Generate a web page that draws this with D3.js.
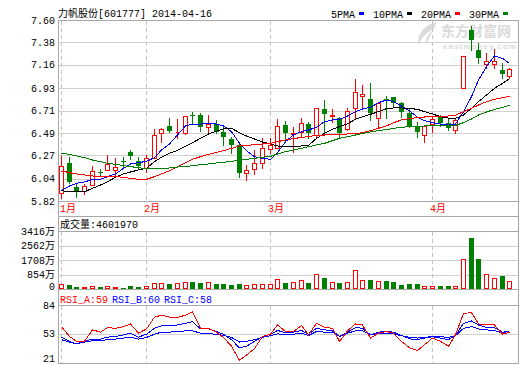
<!DOCTYPE html>
<html>
<head>
<meta charset="utf-8">
<script src="https://cdn.jsdelivr.net/npm/d3@7"></script>
<style>
  body { margin: 0; background: #fff; }
  svg { display: block; }
  text { font-family: "Liberation Mono", "Noto Sans CJK SC", monospace; font-size: 10px; fill: #000; }
</style>
</head>
<body>
<svg width="520" height="365"></svg>
<script>

// trading days shown (2014)
var dates = [
  "2014-01-16","2014-01-17","2014-01-20","2014-01-21","2014-01-22","2014-01-23","2014-01-24","2014-01-27","2014-01-28","2014-01-29","2014-01-30",
  "2014-02-07","2014-02-10","2014-02-11","2014-02-12","2014-02-13","2014-02-14","2014-02-17","2014-02-18","2014-02-19","2014-02-20","2014-02-21","2014-02-24","2014-02-25","2014-02-26","2014-02-27","2014-02-28",
  "2014-03-03","2014-03-04","2014-03-05","2014-03-06","2014-03-07","2014-03-10","2014-03-11","2014-03-12","2014-03-13","2014-03-14","2014-03-17","2014-03-18","2014-03-19","2014-03-20","2014-03-21","2014-03-24","2014-03-25","2014-03-26","2014-03-27","2014-03-28","2014-03-31",
  "2014-04-01","2014-04-02","2014-04-03","2014-04-04","2014-04-08","2014-04-09","2014-04-10","2014-04-11","2014-04-14","2014-04-15","2014-04-16"
];

var open = [
  5.895, 6.190, 5.961, 5.922, 5.977, 6.108, 6.125, 6.125, 6.210, 6.299, 6.213,
  6.141, 6.240, 6.485, 6.558, 6.497, 6.492, 6.669, 6.666, 6.545, 6.577, 6.502, 6.427, 6.371, 6.099, 6.131, 6.190,
  6.328, 6.338, 6.564, 6.482, 6.502, 6.577, 6.469, 6.721, 6.656, 6.633, 6.525, 6.731, 6.853, 6.820, 6.633, 6.826, 6.839, 6.787, 6.682, 6.558, 6.469,
  6.577, 6.643, 6.590, 6.518, 6.935, 7.502, 7.305, 7.164, 7.164, 7.108, 7.049
];
var high = [
  6.263, 6.256, 5.994, 5.987, 6.168, 6.135, 6.276, 6.243, 6.256, 6.322, 6.256,
  6.272, 6.525, 6.535, 6.633, 6.626, 6.656, 6.692, 6.682, 6.666, 6.617, 6.545, 6.446, 6.381, 6.174, 6.322, 6.436,
  6.436, 6.630, 6.607, 6.551, 6.633, 6.600, 6.731, 6.813, 6.721, 6.649, 6.731, 7.017, 6.961, 6.977, 6.797, 6.853, 6.839, 6.790, 6.731, 6.600, 6.558,
  6.649, 6.666, 6.633, 6.633, 7.246, 7.541, 7.370, 7.272, 7.312, 7.174, 7.125
];
var low = [
  5.853, 5.994, 5.856, 5.886, 5.974, 6.069, 6.125, 6.076, 6.141, 6.230, 6.132,
  6.102, 6.240, 6.400, 6.495, 6.436, 6.476, 6.590, 6.512, 6.502, 6.485, 6.371, 6.289, 6.059, 6.027, 6.086, 6.141,
  6.289, 6.338, 6.404, 6.305, 6.446, 6.436, 6.436, 6.485, 6.600, 6.436, 6.518, 6.633, 6.748, 6.617, 6.551, 6.633, 6.740, 6.650, 6.551, 6.446, 6.403,
  6.502, 6.558, 6.518, 6.486, 6.935, 7.305, 7.174, 7.125, 7.125, 7.026, 7.026
];
var close = [
  6.164, 6.004, 5.922, 5.971, 6.118, 6.102, 6.181, 6.158, 6.204, 6.263, 6.168,
  6.240, 6.466, 6.528, 6.508, 6.503, 6.656, 6.663, 6.545, 6.577, 6.502, 6.453, 6.371, 6.099, 6.125, 6.190, 6.338,
  6.371, 6.561, 6.485, 6.488, 6.584, 6.485, 6.731, 6.676, 6.662, 6.492, 6.708, 6.889, 6.872, 6.682, 6.787, 6.820, 6.787, 6.692, 6.561, 6.502, 6.558,
  6.623, 6.590, 6.535, 6.617, 7.246, 7.403, 7.223, 7.197, 7.197, 7.066, 7.118
];

// moving averages as drawn
var ma5 = [
  5.922, 5.968, 5.994, 6.007, 6.033, 6.033, 6.059, 6.086, 6.141, 6.184, 6.197, 6.210, 6.246, 6.322, 6.381, 6.469,
  6.558, 6.577, 6.577, 6.584, 6.577, 6.558, 6.502, 6.387, 6.315, 6.256, 6.240, 6.230, 6.295, 6.404, 6.469, 6.502, 6.518, 6.545, 6.600, 6.617, 6.623, 6.656,
  6.699, 6.725, 6.741, 6.787, 6.813, 6.797, 6.754, 6.708, 6.643, 6.610, 6.590, 6.577, 6.567, 6.577, 6.699, 6.846, 7.010, 7.141, 7.246, 7.223, 7.174
];
var ma10 = [
  5.922, 5.909, 5.909, 5.912, 5.945, 5.977, 6.010, 6.053, 6.086, 6.105, 6.125, 6.141, 6.207, 6.250, 6.289, 6.318,
  6.360, 6.394, 6.436, 6.479, 6.508, 6.531, 6.535, 6.492, 6.459, 6.430, 6.400, 6.381, 6.361, 6.354, 6.354, 6.361, 6.367, 6.436, 6.485, 6.525, 6.551, 6.580,
  6.623, 6.649, 6.672, 6.699, 6.728, 6.735, 6.735, 6.731, 6.721, 6.699, 6.676, 6.649, 6.636, 6.633, 6.666, 6.731, 6.797, 6.862, 6.928, 6.977, 7.023
];
var ma20 = [
  6.115, 6.099, 6.086, 6.076, 6.066, 6.059, 6.059, 6.059, 6.053, 6.043, 6.033, 6.033, 6.059, 6.086, 6.118, 6.158,
  6.197, 6.230, 6.256, 6.279, 6.299, 6.315, 6.338, 6.361, 6.367, 6.374, 6.381, 6.387, 6.404, 6.420, 6.433, 6.446, 6.453, 6.466, 6.469, 6.472, 6.476, 6.479,
  6.482, 6.492, 6.512, 6.535, 6.558, 6.590, 6.617, 6.630, 6.640, 6.646, 6.649, 6.653, 6.656, 6.663, 6.699, 6.731, 6.764, 6.797, 6.820, 6.836, 6.849
];
var ma30 = [
  6.289, 6.279, 6.263, 6.246, 6.223, 6.207, 6.190, 6.181, 6.168, 6.158, 6.148, 6.138, 6.135, 6.138, 6.145, 6.154,
  6.158, 6.168, 6.177, 6.184, 6.194, 6.200, 6.210, 6.220, 6.230, 6.240, 6.250, 6.259, 6.282, 6.305, 6.322, 6.338, 6.354, 6.371, 6.387, 6.413, 6.436, 6.453,
  6.469, 6.485, 6.499, 6.512, 6.522, 6.535, 6.545, 6.551, 6.554, 6.558, 6.558, 6.558, 6.558, 6.564, 6.590, 6.626, 6.666, 6.695, 6.721, 6.741, 6.761
];

// volume, in 万 shares
var volume = [
  273, 234, 117, 117, 195, 117, 195, 117, 60, 195, 136,
  156, 330, 330, 290, 350, 390, 430, 350, 430, 290, 290, 234, 312, 253, 290, 273,
  273, 565, 350, 410, 526, 350, 877, 643, 410, 350, 410, 1111, 526, 546, 468, 487, 410, 234, 290, 290, 156,
  156, 175, 175, 156, 1794, 2984, 1755, 858, 624, 760, 460
];

var rsiA = [
  60.5, 49.8, 44.5, 44.5, 57.0, 54.5, 59.5, 58.7, 60.5, 63.4, 53.4, 58.0, 70.8, 73.0, 70.8, 70.5, 73.0, 76.5, 58.7, 58.7,
  54.5, 48.8, 39.2, 23.9, 29.6, 36.7, 49.8, 52.3, 62.3, 55.2, 55.2, 61.6, 51.6, 64.1, 59.8, 58.7, 44.5, 55.9, 63.4, 62.3,
  48.1, 53.4, 55.2, 53.4, 44.5, 37.4, 34.5, 40.9, 48.1, 44.5, 39.2, 51.6, 74.8, 75.8, 63.4, 62.3, 62.3, 52.3, 54.5
];
var rsiB = [
  48.8, 44.5, 41.7, 44.5, 47.0, 47.0, 49.1, 49.8, 51.6, 53.4, 49.1, 52.3, 58.7, 61.2, 61.2, 62.3, 64.1, 65.9, 58.0, 58.0,
  55.2, 52.3, 46.3, 37.4, 39.2, 44.5, 49.5, 52.3, 56.3, 54.1, 54.5, 56.3, 52.3, 58.7, 57.0, 55.9, 49.8, 54.5, 59.5, 58.7,
  51.6, 54.5, 55.2, 54.5, 50.9, 47.3, 46.3, 48.1, 49.5, 48.1, 46.3, 50.9, 64.1, 66.6, 62.3, 59.5, 59.5, 54.5, 55.2
];
var rsiC = [
  46.3, 43.8, 41.7, 43.8, 45.2, 45.2, 46.3, 47.0, 48.1, 49.1, 47.0, 48.8, 52.3, 54.5, 54.5, 55.2, 55.9, 55.9, 53.4, 52.7,
  52.3, 50.9, 48.8, 43.8, 44.5, 46.3, 48.8, 50.6, 52.7, 51.6, 52.3, 53.4, 50.9, 55.2, 54.5, 54.5, 49.8, 53.4, 55.9, 55.9,
  51.6, 53.4, 53.4, 52.7, 50.6, 48.8, 48.1, 48.8, 49.8, 49.5, 48.8, 50.6, 58.7, 60.5, 58.0, 57.0, 56.3, 53.4, 55.9
];

var priceTicks = [5.82, 6.04, 6.27, 6.49, 6.71, 6.93, 7.16, 7.38, 7.60];
var volTicks = [0, 854, 1708, 2562, 3416];
var rsiTicks = [21, 53, 84];
var maNames = ["5PMA", "10PMA", "20PMA", "30PMA"];
var rsiNames = ["RSI_A:59", "RSI_B:60", "RSI_C:58"];

var title = "力帆股份[601777] 2014-04-16";
var volTitle = "成交量:4601970";

var RED = "#ff0000", GREEN = "#008000", BLUE = "#0000ff";
var maColors = [BLUE, "#000000", RED, GREEN];
var rsiColors = [RED, BLUE, BLUE];
var FRAME = "#a8a8a8", GRID = "#d0d0d0";

var svg = d3.select("svg"), width = +svg.attr("width"), height = +svg.attr("height");

// panel edges (pixel rows / columns)
var left = 58, right = 518;
var mainTop = 20, mainBottom = 201, labelBottom = 216;
var volTop = 231, volBottom = 289;
var rsiHead = 305, rsiBottom = 363;

var x = d3.scaleBand().domain(dates).range([57, 513.3]);
function cx(d) { return Math.round(x(d) + x.bandwidth() / 2); }

var y = d3.scaleLinear().domain([5.82, 7.60]).range([mainBottom, mainTop]);
var yVol = d3.scaleLinear().domain([0, 3416]).range([volBottom, volTop]);
var yRsi = d3.scaleLinear().domain([21, 84]).range([rsiBottom, rsiHead]);

var bars = dates.map(function(d, i) {
  return { date: d, o: open[i], h: high[i], l: low[i], c: close[i], v: volume[i] };
});
function up(d) { return d.c >= d.o; }
function col(d) { return up(d) ? RED : GREEN; }

// first trading day of each month
var monthStarts = dates.filter(function(d, i) {
  return i === 0 || d.slice(5, 7) !== dates[i - 1].slice(5, 7);
});

// ---- watermark
var wm = svg.append("g").attr("fill", "#dadada");
wm.append("path")
  .attr("d", "M437,22 C425,25 416,34 419,45 C421,37 427,32 434,29 C428,34 425,39 426,45 C429,37 433,31 437,22 Z");
wm.append("text").attr("x", 441).attr("y", 36)
  .style("font-family", "'Noto Sans CJK SC'").style("font-size", "14px").style("font-weight", "bold")
  .style("fill", "#dadada").text("东方财富网");
wm.append("text").attr("x", 443).attr("y", 48.5).attr("textLength", 73)
  .style("font-family", "'Liberation Sans'").style("font-size", "8px").style("font-weight", "bold")
  .style("fill", "#dadada").text("eastmoney.com");

// ---- grids with tick labels
function yAxis(scale, ticks, fmt) {
  var g = svg.append("g").attr("transform", "translate(" + left + ",0)")
    .call(d3.axisLeft(scale).tickValues(ticks).tickSize(-(right - left)).tickPadding(3).tickFormat(fmt));
  g.select(".domain").remove();
  g.selectAll(".tick line").attr("stroke", GRID).attr("shape-rendering", "crispEdges");
  g.selectAll(".tick text").attr("fill", "#000");
  g.attr("font-family", null).attr("font-size", null);
  return g;
}
yAxis(y, priceTicks, d3.format(".2f"));
var va = yAxis(yVol, volTicks, function(d) { return d === 0 ? "0" : d + "万"; });
va.selectAll(".tick text").filter(function(d) { return d === 0; }).attr("dy", "0.05em");
var ra = yAxis(yRsi, rsiTicks, d3.format("d"));
ra.selectAll(".tick text").filter(function(d) { return d === 21; }).attr("dy", "-0.15em");

// month dashed lines
var panels = [[mainTop, mainBottom], [volTop, volBottom], [rsiHead, rsiBottom]];
panels.forEach(function(p) {
  svg.append("g").selectAll("line").data(monthStarts).enter().append("line")
    .attr("x1", function(d) { return cx(d) + 0.5; }).attr("x2", function(d) { return cx(d) + 0.5; })
    .attr("y1", p[0] + 1).attr("y2", p[1])
    .attr("stroke", "#c4c4c4").attr("stroke-dasharray", "4,3");
});

// frame
var hLines = [mainTop, mainBottom, labelBottom, volTop, volBottom, rsiHead, rsiBottom];
svg.append("g").attr("shape-rendering", "crispEdges").selectAll("line").data(hLines).enter().append("line")
  .attr("x1", left).attr("x2", right + 1)
  .attr("y1", function(d) { return d + 0.5; }).attr("y2", function(d) { return d + 0.5; })
  .attr("stroke", FRAME);
svg.append("g").attr("shape-rendering", "crispEdges").selectAll("line").data([left, right]).enter().append("line")
  .attr("x1", function(d) { return d + 0.5; }).attr("x2", function(d) { return d + 0.5; })
  .attr("y1", mainTop).attr("y2", rsiBottom + 1)
  .attr("stroke", FRAME);

// ---- candles
var candle = svg.append("g").attr("shape-rendering", "crispEdges")
  .selectAll("g").data(bars).enter().append("g");

candle.append("rect")
  .attr("x", function(d) { return cx(d.date); })
  .attr("y", function(d) { return Math.round(y(d.h)); })
  .attr("width", 1)
  .attr("height", function(d) { return Math.round(y(d.l)) - Math.round(y(d.h)) + 1; })
  .attr("fill", col);

candle.filter(up).append("path")
  .attr("d", function(d) {
    var t = Math.round(y(d.c)), b = Math.round(y(d.o));
    return "M" + (cx(d.date) - 1.5) + "," + (t + 0.5) + "h4v" + (b - t) + "h-4Z";
  })
  .attr("fill", "#fff").attr("stroke", RED);

candle.filter(function(d) { return !up(d); }).append("rect")
  .attr("x", function(d) { return cx(d.date) - 2; })
  .attr("y", function(d) { return Math.round(y(d.o)); })
  .attr("width", 5)
  .attr("height", function(d) { return Math.max(Math.round(y(d.c)) - Math.round(y(d.o)), 1); })
  .attr("fill", GREEN);

// ---- moving averages
[ma5, ma10, ma20, ma30].forEach(function(series, k) {
  svg.append("path").datum(series)
    .attr("fill", "none").attr("stroke", maColors[k]).attr("stroke-width", 1)
    .attr("shape-rendering", "crispEdges")
    .attr("d", d3.line()
      .x(function(v, i) { return cx(dates[i]) + 0.5; })
      .y(function(v) { return y(v); }));
});

// ---- volume bars
var vol = svg.append("g").attr("shape-rendering", "crispEdges")
  .selectAll("g").data(bars).enter().append("g");

vol.filter(up).append("path")
  .attr("d", function(d) {
    var t = Math.round(yVol(d.v));
    return "M" + (cx(d.date) - 1.5) + "," + (t + 0.5) + "h4v" + Math.max(volBottom - 1 - t, 0) + "h-4Z";
  })
  .attr("fill", "#fff").attr("stroke", RED);

vol.filter(function(d) { return !up(d); }).append("rect")
  .attr("x", function(d) { return cx(d.date) - 2; })
  .attr("y", function(d) { return Math.round(yVol(d.v)); })
  .attr("width", 5)
  .attr("height", function(d) { return volBottom - Math.round(yVol(d.v)); })
  .attr("fill", GREEN);

// ---- RSI
[rsiC, rsiB, rsiA].forEach(function(series, k) {
  svg.append("path").datum(series)
    .attr("fill", "none").attr("stroke", [BLUE, BLUE, RED][k]).attr("stroke-width", 1)
    .attr("shape-rendering", "crispEdges")
    .attr("d", d3.line()
      .x(function(v, i) { return cx(dates[i]) + 0.5; })
      .y(function(v) { return yRsi(v); }));
});

// ---- texts
svg.append("text").attr("x", 58).attr("y", 13.5).attr("dy", "0.35em").text(title);

var lx = 331;
maNames.forEach(function(name, i) {
  var t = svg.append("text").attr("x", lx).attr("y", 14).attr("dy", "0.35em").text(name);
  var mx = Math.round(lx + t.node().getComputedTextLength() + 4);
  svg.append("rect").attr("x", mx).attr("y", 12).attr("width", 5).attr("height", 3).attr("fill", maColors[i]);
  lx = mx + 5 + 9;
});

svg.append("g").selectAll("text").data(monthStarts).enter().append("text")
  .attr("x", function(d) { return Math.max(cx(d) - 2, left + 2); })
  .attr("y", 208.5).attr("dy", "0.35em")
  .style("fill", RED)
  .text(function(d) { return (+d.slice(5, 7)) + "月"; });

svg.append("text").attr("x", 60).attr("y", 224).attr("dy", "0.35em").text(volTitle);

var rx = 60;
rsiNames.forEach(function(name, i) {
  var t = svg.append("text").attr("x", rx).attr("y", 299).attr("dy", "0.35em")
    .style("fill", rsiColors[i]).text(name);
  rx = Math.round(rx + t.node().getComputedTextLength() + 4);
});

</script>
</body>
</html>
